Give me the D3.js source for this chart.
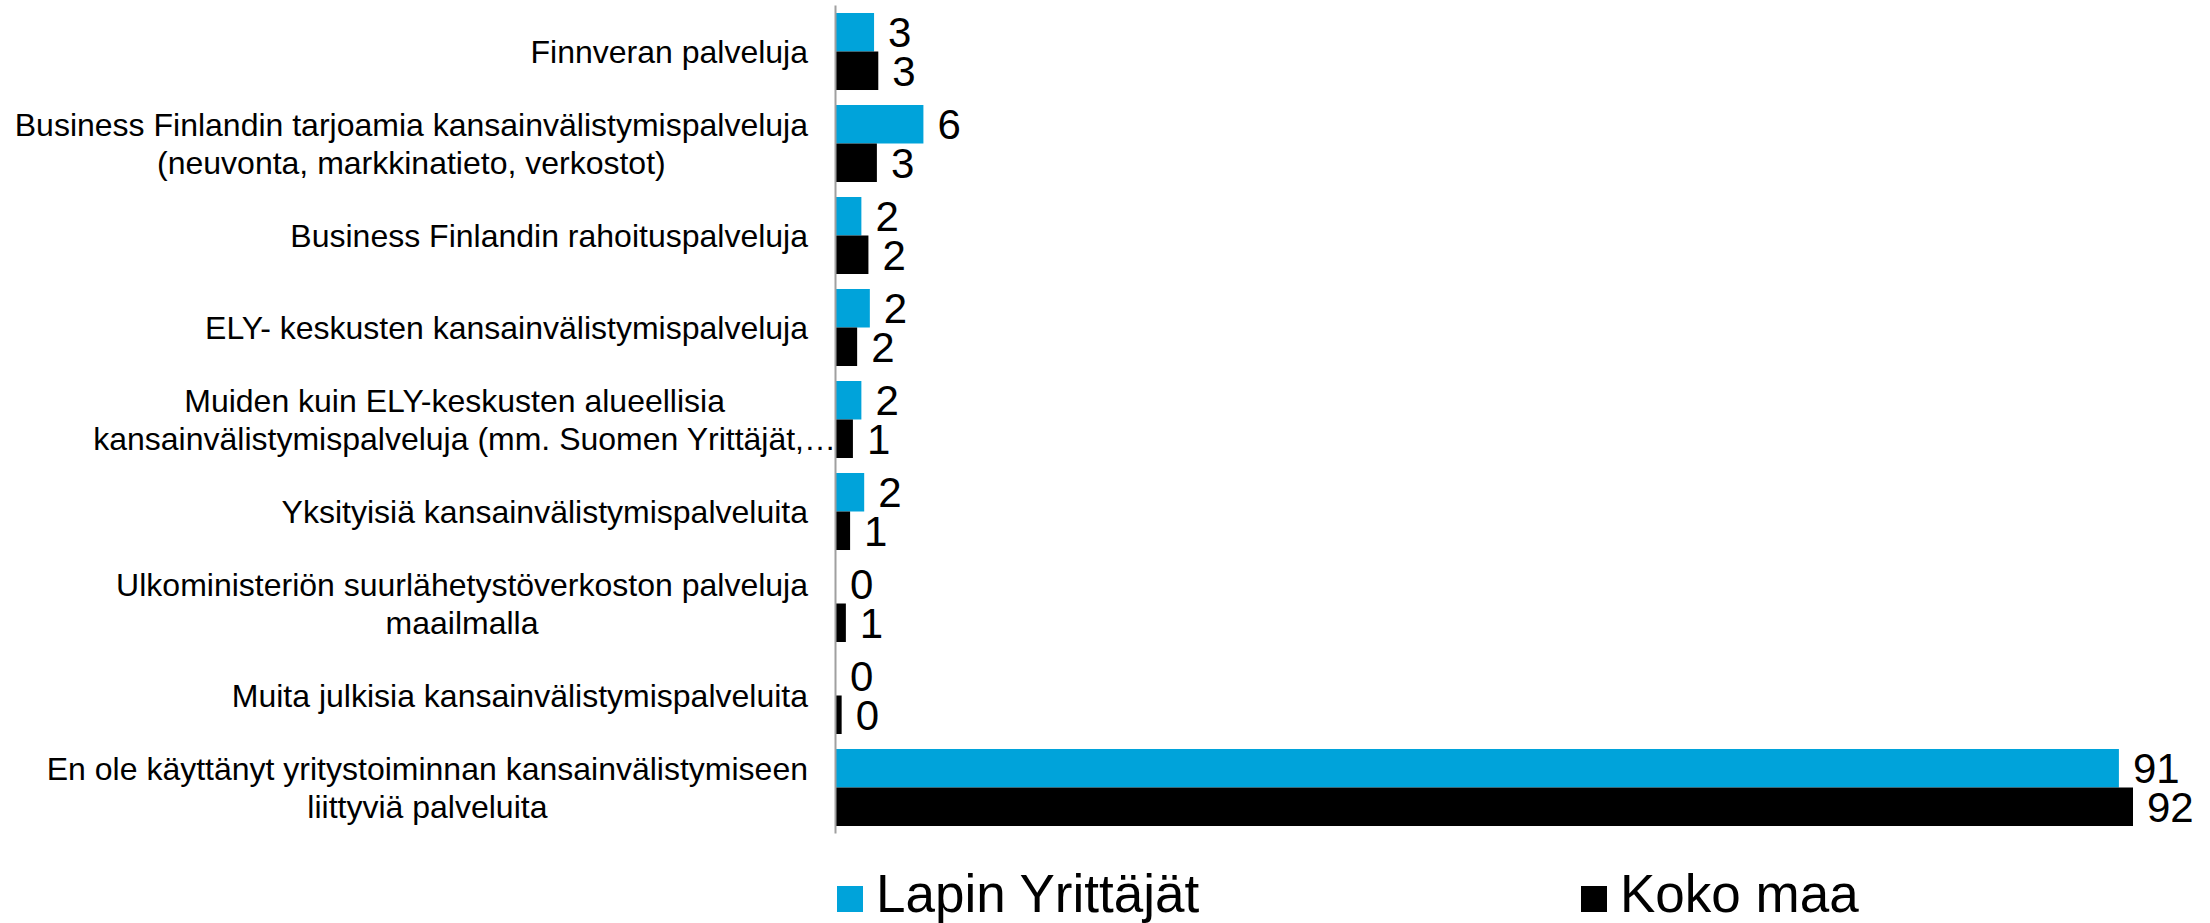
<!DOCTYPE html>
<html>
<head>
<meta charset="utf-8">
<script src="https://cdn.jsdelivr.net/npm/d3@7"></script>
<style>
  html, body { margin: 0; padding: 0; background: #fff; }
  svg { display: block; font-family: "Liberation Sans", Arial, sans-serif; }
</style>
</head>
<body>
<svg id="chart" width="2210" height="923"></svg>
<script>
// ---- data ----
const categories = [
  ["Finnveran palveluja"],
  ["Business Finlandin tarjoamia kansainvälistymispalveluja", "(neuvonta, markkinatieto, verkostot)"],
  ["Business Finlandin rahoituspalveluja"],
  ["ELY- keskusten kansainvälistymispalveluja"],
  ["Muiden kuin ELY-keskusten alueellisia", "kansainvälistymispalveluja (mm. Suomen Yrittäjät,…"],
  ["Yksityisiä kansainvälistymispalveluita"],
  ["Ulkoministeriön suurlähetystöverkoston palveluja", "maailmalla"],
  ["Muita julkisia kansainvälistymispalveluita"],
  ["En ole käyttänyt yritystoiminnan kansainvälistymiseen", "liittyviä palveluita"]
];
const seriesNames = ["Lapin Yrittäjät", "Koko maa"];
const lapinValues = [2.7, 6.2, 1.8, 2.4, 1.8, 2.0, 0, 0, 91];
const kokoMaaValues = [3.0, 2.9, 2.3, 1.5, 1.2, 1.0, 0.7, 0.4, 92];
const seriesColors = ["#00a3da", "#000000"];

// ---- layout ----
const svg = d3.select("#chart");
const axisX = 836;
const labelRight = 808;
const y0 = d3.scaleBand()
  .domain(d3.range(categories.length))
  .range([5.5, 833.5])
  .paddingInner(0.163)
  .paddingOuter(0.0815);
const y1 = d3.scaleBand()
  .domain([0, 1])
  .range([0, y0.bandwidth()])
  .padding(0);
const x = d3.scaleLinear().domain([0, 92]).range([axisX, 2133]);
const fmt = d3.format(".0f");

const series = [lapinValues, kokoMaaValues];

// bars
series.forEach((vals, si) => {
  svg.append("g").selectAll("rect")
    .data(vals)
    .join("rect")
    .attr("x", x(0))
    .attr("y", (d, i) => y0(i) + y1(si))
    .attr("width", d => x(d) - x(0))
    .attr("height", y1.bandwidth())
    .attr("fill", seriesColors[si]);
  svg.append("g").selectAll("text")
    .data(vals)
    .join("text")
    .attr("x", d => x(d) + 14)
    .attr("y", (d, i) => y0(i) + y1(si) + y1.bandwidth() / 2)
    .attr("dy", "0.36em")
    .attr("font-size", 42)
    .attr("fill", "#000")
    .text(d => fmt(d));
});

// axis line
svg.append("line")
  .attr("x1", axisX - 0.5).attr("x2", axisX - 0.5)
  .attr("y1", y0.range()[0]).attr("y2", y0.range()[1])
  .attr("stroke", "#a0a0a0").attr("stroke-width", 2);

// category labels
const lineH = 37.5;
const labelG = svg.append("g").attr("font-size", 32).attr("fill", "#000");
categories.forEach((lines, i) => {
  const cy = y0(i) + y0.bandwidth() / 2;
  const g = labelG.append("g");
  const texts = lines.map((ln, k) => g.append("text")
    .attr("text-anchor", "middle")
    .attr("y", cy + (k - (lines.length - 1) / 2) * lineH)
    .attr("dy", "0.36em")
    .text(ln));
  const widths = texts.map(t => {
    const node = t.node();
    const txt = node.textContent;
    if (txt.endsWith("…")) {
      return node.getSubStringLength(0, txt.length - 1) - 4;
    }
    return node.getComputedTextLength();
  });
  const w = d3.max(widths);
  texts.forEach(t => {
    const txt = t.node().textContent;
    // trailing ellipsis overflows to the right, as in the original
    const shift = txt.endsWith("…") ? 10 : 0;
    t.attr("x", labelRight - w / 2 + shift);
  });
});

// legend
const legendX = [837, 1581];
const legend = svg.append("g");
seriesNames.forEach((name, i) => {
  legend.append("rect")
    .attr("x", legendX[i]).attr("y", 886)
    .attr("width", 26).attr("height", 26)
    .attr("fill", seriesColors[i]);
  legend.append("text")
    .attr("x", legendX[i] + 39).attr("y", 912)
    .attr("font-size", 53)
    .attr("fill", "#000")
    .text(name);
});
</script>
</body>
</html>
